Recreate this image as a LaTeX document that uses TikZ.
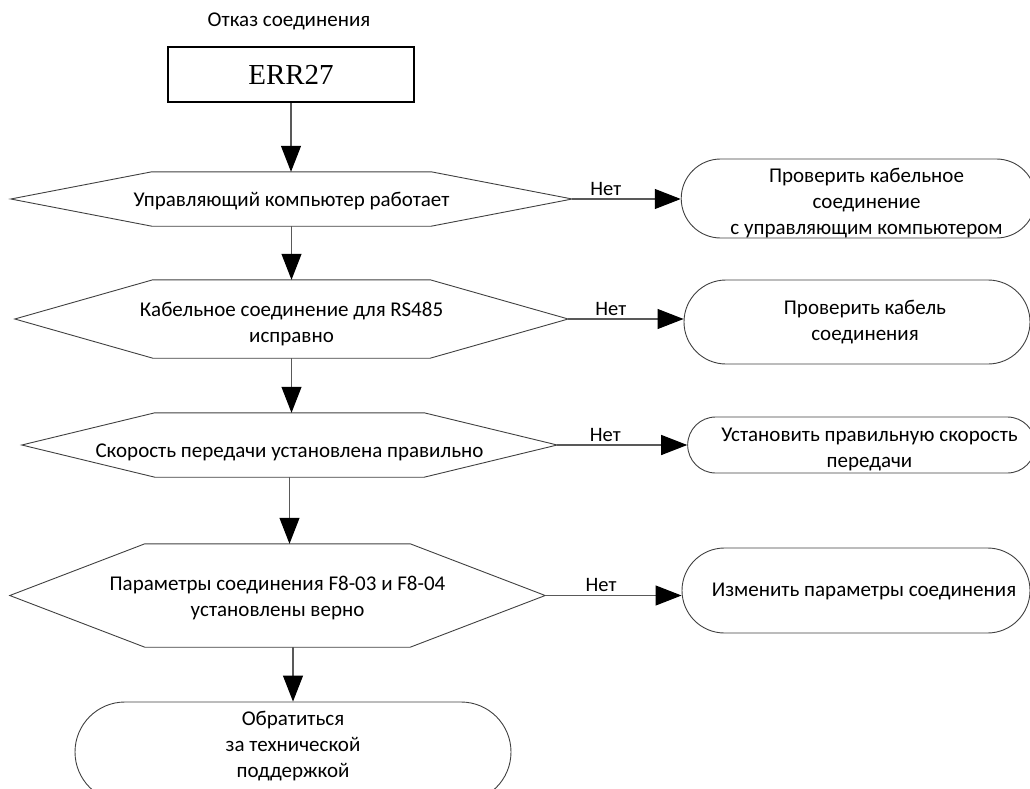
\documentclass[tikz,border=0pt]{standalone}
\usepackage{fontspec}
\setmainfont{Carlito}
\newfontfamily\timesf{Liberation Serif}
\usetikzlibrary{arrows.meta,shapes.misc,calc}
% lines of text, lowered by #1 without changing the box size, moved right by #2
\newcommand{\lines}[3]{\hspace*{#2}\raisebox{-#1}[\height][\depth]{\begin{tabular}{@{}c@{}}#3\end{tabular}}}
\begin{document}
\begin{tikzpicture}[x=1pt,y=-1pt,
  txt/.style={font=\fontsize{21}{26}\selectfont, align=center},
  shapeline/.style={draw=black!75, line width=0.9pt},
  hexbox/.style={txt, inner sep=0pt, rectangle},
  term/.style={txt, shapeline, rounded rectangle, inner sep=0pt},
  flow/.style={draw=black!65, line width=1.1pt, -{Triangle[length=26pt,width=20pt,color=black]}},
  nolab/.style={font=\fontsize{20.5}{24}\selectfont, above, inner sep=3pt}
]
\useasboundingbox (0,0) rectangle (1030,789);
\begin{scope}
\clip (0,0) rectangle (1030,789);

\node[txt] (title) at (289,21) {Отказ соединения};
\node[draw=black, line width=2.4pt, minimum width=246pt, minimum height=55pt, inner sep=0pt,
      font=\timesf\fontsize{29}{30}\selectfont] (err) at (291,74.5) {ERR27};

\newcommand{\hexdraw}[2]{\draw[shapeline] (#1.west) -- ([xshift=#2pt]#1.north west) -- ([xshift=-#2pt]#1.north east) -- (#1.east) -- ([xshift=-#2pt]#1.south east) -- ([xshift=#2pt]#1.south west) -- cycle;}

\node[hexbox, minimum width=561pt, minimum height=54pt] (d1) at (291.5,199) {\lines{2pt}{0pt}{Управляющий компьютер работает}};
\hexdraw{d1}{141}
\node[hexbox, minimum width=553pt, minimum height=78pt] (d2) at (291.5,319) {\lines{5pt}{0pt}{Кабельное соединение для RS485\\исправно}};
\hexdraw{d2}{138}
\node[hexbox, minimum width=535pt, minimum height=64pt] (d3) at (289.5,445) {\lines{7pt}{0pt}{Скорость передачи установлена правильно}};
\hexdraw{d3}{133}
\node[hexbox, minimum width=535pt, minimum height=103pt] (d4) at (277.5,595.5) {\lines{3pt}{0pt}{Параметры соединения F8-03 и F8-04\\установлены верно}};
\hexdraw{d4}{135}

\node[term, minimum width=436pt, minimum height=100pt] (fin) at (293,752) {\lines{-6pt}{0pt}{Обратиться\\за технической\\поддержкой}};

\node[term, minimum width=343pt, minimum height=79pt] (n1) at (858.5,198.5) {\lines{5pt}{16pt}{Проверить кабельное\\соединение\\с управляющим компьютером}};
\node[term, minimum width=346pt, minimum height=84pt] (n2) at (857,322) {\lines{0pt}{16pt}{Проверить кабель\\соединения}};
\node[term, minimum width=337pt, minimum height=56pt] (n3) at (861.5,445) {\lines{4pt}{16pt}{Установить правильную скорость\\передачи}};
\node[term, minimum width=348pt, minimum height=85pt] (n4) at (856,590.5) {\lines{1pt}{16pt}{Изменить параметры соединения}};

\draw[flow] (err.south) -- (err.south |- d1.north);
\draw[flow] (d1.south) -- (d1.south |- d2.north);
\draw[flow] (d2.south) -- (d2.south |- d3.north);
\draw[flow] (d3.south) -- (d3.south |- d4.north);
\draw[flow] (fin.north |- d4.south) -- (fin.north);

\draw[flow] (d1.east) -- (d1.east -| n1.west) node[nolab, pos=.31] {Нет};
\draw[flow] (d2.east) -- (d2.east -| n2.west) node[nolab, pos=.37] {Нет};
\draw[flow] (d3.east) -- (d3.east -| n3.west) node[nolab, pos=.37] {Нет};
\draw[flow] (d4.east) -- (d4.east -| n4.west) node[nolab, pos=.41] {Нет};
\end{scope}
\end{tikzpicture}
\end{document}
